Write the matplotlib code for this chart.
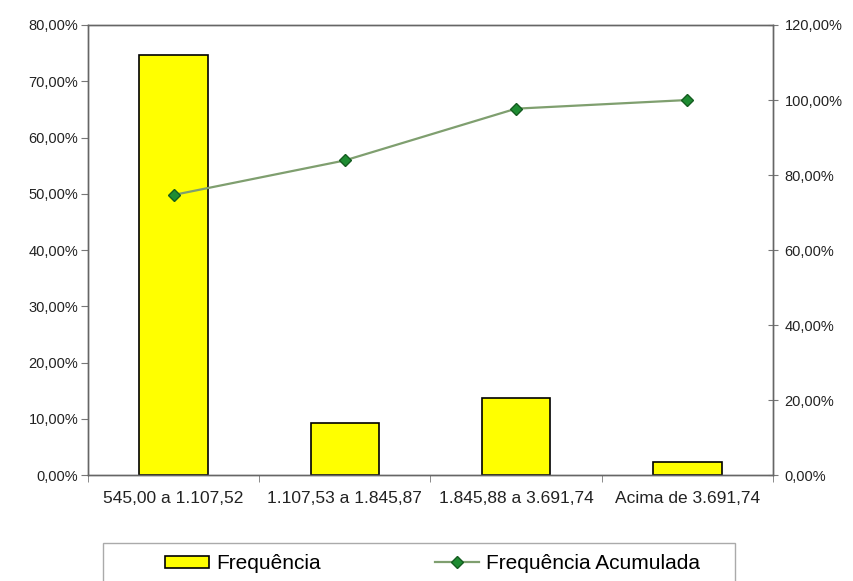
import matplotlib
matplotlib.use('Agg')
import matplotlib.pyplot as plt
from matplotlib.ticker import FuncFormatter, FixedLocator
from matplotlib.patches import Rectangle
import numpy as np

plt.rcParams['font.family'] = ['Liberation Sans', 'DejaVu Sans']

# faixas de renda e frequencias relativas (%)
faixas = ['545,00 a 1.107,52', '1.107,53 a 1.845,87', '1.845,88 a 3.691,74', 'Acima de 3.691,74']
frequencia = [74.7, 9.2, 13.8, 2.3]
freq_acumulada = [74.7, 83.9, 97.7, 100.0]

def pct(v, pos):
    return f'{v:.2f}%'.replace('.', ',')

fig = plt.figure(figsize=(8.54, 5.81), dpi=100)
ax = fig.add_axes([0.103, 0.182, 0.802, 0.775])
x = np.arange(len(faixas))

barras = ax.bar(x, frequencia, width=0.4, color='#ffff00', edgecolor='black', linewidth=1.2,
                label='Frequência', zorder=2)
ax.set_xlim(-0.5, len(faixas) - 0.5)
ax.set_ylim(0, 80)
ax.yaxis.set_major_locator(FixedLocator(np.arange(0, 81, 10)))
ax.yaxis.set_major_formatter(FuncFormatter(pct))
ax.set_xticks(x)
ax.set_xticklabels(faixas)
ax.xaxis.set_minor_locator(FixedLocator(np.arange(-0.5, len(faixas), 1)))
ax.tick_params(axis='x', which='major', length=0, pad=11, labelsize=12.5, colors='#222222')
ax.tick_params(axis='x', which='minor', length=5, color='#777777')
ax.tick_params(axis='y', length=5, color='#777777', labelsize=10.5, labelcolor='#222222', pad=2)

ax2 = ax.twinx()
linha, = ax2.plot(x, freq_acumulada, color='#7f9f6f', linewidth=1.6, marker='D', markersize=6.5,
                  markerfacecolor='#1e8c32', markeredgecolor='#145c20', label='Frequência Acumulada',
                  zorder=3)
ax2.set_ylim(0, 120)
ax2.yaxis.set_major_locator(FixedLocator(np.arange(0, 121, 20)))
ax2.yaxis.set_major_formatter(FuncFormatter(pct))
ax2.tick_params(axis='y', direction='inout', length=7, color='#777777', labelsize=10.5,
                labelcolor='#222222', pad=5)

for a in (ax, ax2):
    for s in a.spines.values():
        s.set_color('#666666')
        s.set_linewidth(1.0)

# caixa da legenda (corta na borda inferior)
fig.patches.append(Rectangle((0.121, -0.05), 0.74, 0.116, transform=fig.transFigure,
                             facecolor='white', edgecolor='#aaaaaa', linewidth=1.0))
leg = fig.legend(handles=[barras, linha], loc='center left', bbox_to_anchor=(0.193, 0.03),
                 ncol=2, frameon=False, fontsize=15, handlelength=2.1, handleheight=0.5,
                 handletextpad=0.35, columnspacing=5.5, borderpad=0, borderaxespad=0)

fig.savefig('out.png', dpi=100)
